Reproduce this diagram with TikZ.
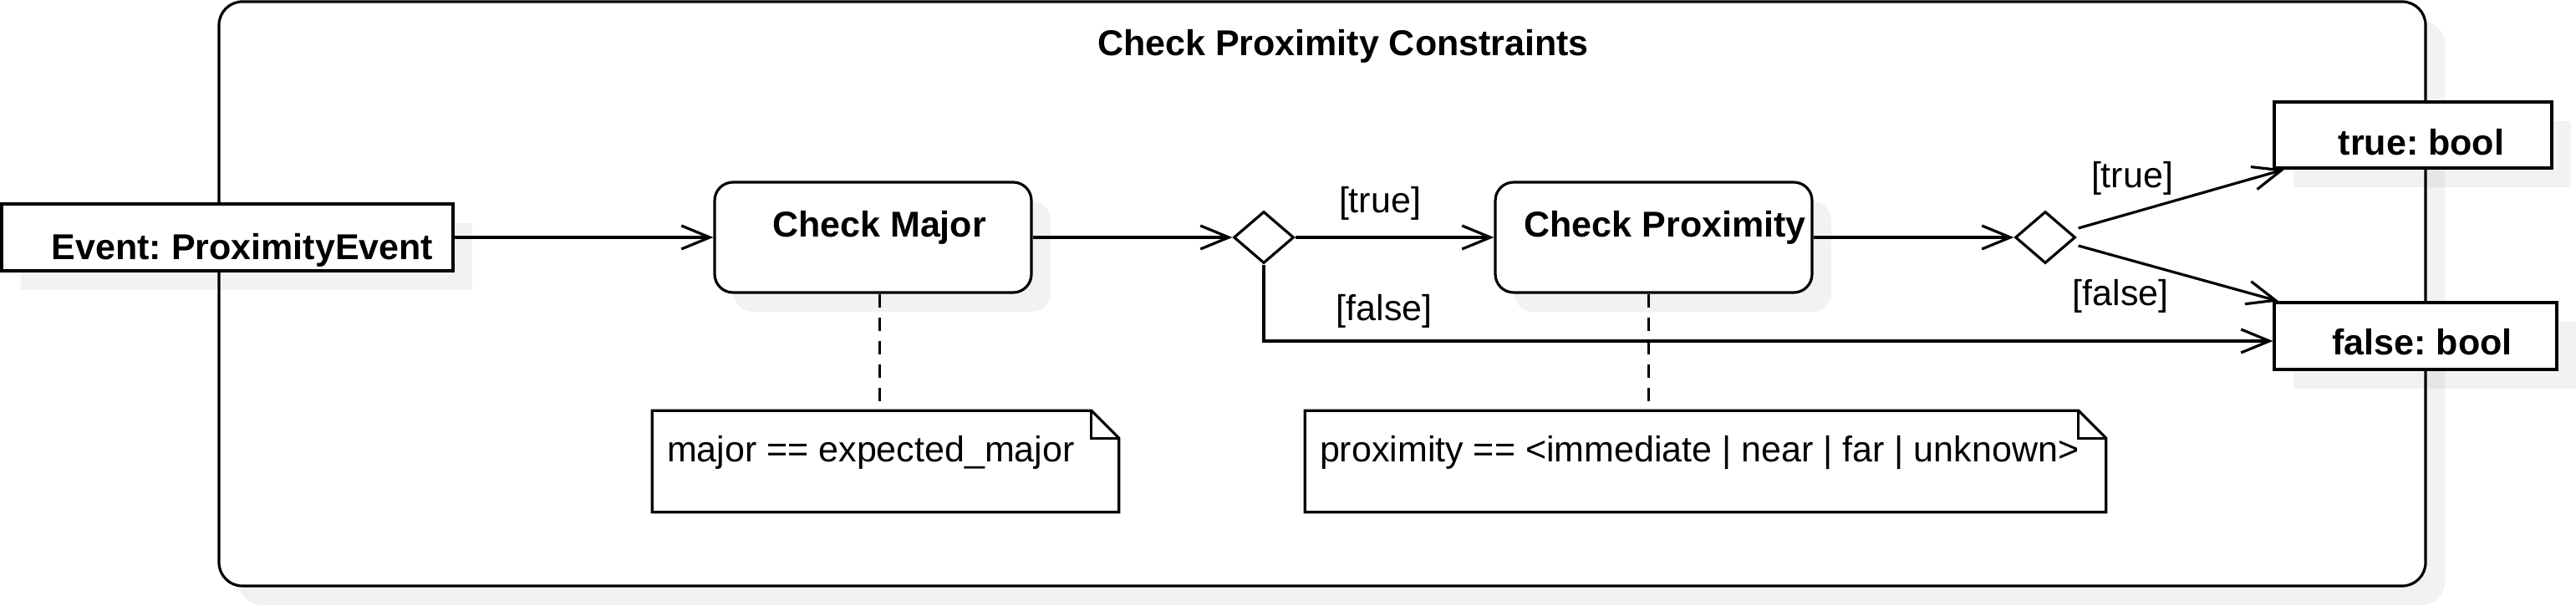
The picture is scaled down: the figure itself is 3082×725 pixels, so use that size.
\documentclass[tikz,border=0pt]{standalone}
\usepackage{fontspec}
\setmainfont{Liberation Sans}
\frenchspacing
\usetikzlibrary{shapes.geometric,shadows,arrows.meta}
\tikzset{
umlline/.style={draw, line width=0.8pt, fill=white, inner sep=0pt},
shadowed/.style={drop shadow={shadow xshift=5.75pt, shadow yshift=-5.75pt, fill=black, opacity=0.05}},
region box/.style={umlline, shadowed, rectangle, rounded corners=7pt},
obj box/.style={umlline, shadowed, rectangle},
act box/.style={umlline, shadowed, rectangle, rounded corners=5.5pt, minimum width=94.75pt, minimum height=33pt},
decision/.style={umlline, diamond, minimum width=18pt, minimum height=15.5pt},
note box/.style={rectangle, inner sep=0pt, minimum height=30pt},
txt/.style={font=\fontsize{10.75}{13}\selectfont, inner sep=0pt},
bold txt/.style={font=\fontsize{10.75}{13}\selectfont\bfseries, inner sep=0pt},
note txt/.style={txt, anchor=west, xshift=4.25pt, yshift=2.75pt},
flow/.style={line width=0.8pt, -{Straight Barb[length=8.5pt, width=7pt]}},
anchor line/.style={line width=0.8pt, dash pattern=on 4pt off 3pt},
}
\begin{document}
\begin{tikzpicture}[x=0.25pt, y=-0.25pt]
\useasboundingbox (0,0) rectangle (3082,725);

% activity region
\node[region box, minimum width=660pt, minimum height=174.75pt] (region) at (1582,351.5) {};
\node[bold txt] (title) at (1607,55) {Check Proximity Constraints};

% object nodes and actions
\node[obj box, minimum width=135pt, minimum height=20pt,
  label={[bold txt, xshift=4.5pt, yshift=-3.75pt]center:{Event: ProximityEvent}}] (event) at (272,284) {};
\node[act box, label={[bold txt, xshift=1.9pt, yshift=3pt]center:{Check Major}}] (cmajor) at (1044.5,284) {};
\node[decision] (d1) at (1512,284) {};
\node[act box, label={[bold txt, xshift=3.4pt, yshift=3pt]center:{Check Proximity}}] (cprox) at (1978.5,284) {};
\node[decision] (d2) at (2447,284) {};
\node[obj box, minimum width=83pt, minimum height=19.75pt,
  label={[bold txt, xshift=2.5pt, yshift=-2.25pt]center:{true: bool}}] (tbool) at (2887,161.5) {};
\node[obj box, minimum width=84.5pt, minimum height=20pt,
  label={[bold txt, xshift=2pt, yshift=-1.9pt]center:{false: bool}}] (fbool) at (2890,402) {};

% notes
\node[note box, minimum width=139.25pt, label={[note txt]west:{major == expected\_major}}] (n1) at (1059.5,552) {};
\node[note box, minimum width=239.25pt, label={[note txt]west:{proximity == <immediate | near | far | unknown>}}] (n2) at (2040.5,552) {};
\foreach \n in {n1,n2}{
  \draw[line width=0.8pt] (\n.north west) -- ([xshift=-8.25pt]\n.north east) -- ([yshift=-8.25pt]\n.north east) -- (\n.south east) -- (\n.south west) -- cycle;
  \draw[line width=0.8pt] ([xshift=-8.25pt]\n.north east) |- ([yshift=-8.25pt]\n.north east);
}
\coordinate (cmdash) at ([xshift=1.9pt]cmajor.south);
\coordinate (cpdash) at ([xshift=-1.6pt]cprox.south);
\draw[anchor line] (cmdash) -- (cmdash |- n1.north);
\draw[anchor line] (cpdash) -- (cpdash |- n2.north);

% guards
\node[txt] (gtrue1) at (1651,243) {[true]};
\node[txt] (gfalse1) at (1656,372) {[false]};
\node[txt] (gtrue2) at (2551,213) {[true]};
\node[txt] (gfalse2) at (2537,354) {[false]};

% control flow
\draw[flow] (event.east) -- (cmajor.west);
\draw[flow] (cmajor.east) -- (d1.west);
\draw[flow] (d1.east) -- (cprox.west);
\draw[flow] (cprox.east) -- (d2.west);
\draw[flow] (d1.south) |- ([yshift=-1.5pt]fbool.west);
\draw[flow] ([xshift=0.5pt, yshift=2.75pt]d2.east) -- ([xshift=3.5pt]tbool.south west);
\draw[flow] ([xshift=0.5pt, yshift=-2.5pt]d2.east) -- ([xshift=1.75pt]fbool.north west);
\end{tikzpicture}
\end{document}
